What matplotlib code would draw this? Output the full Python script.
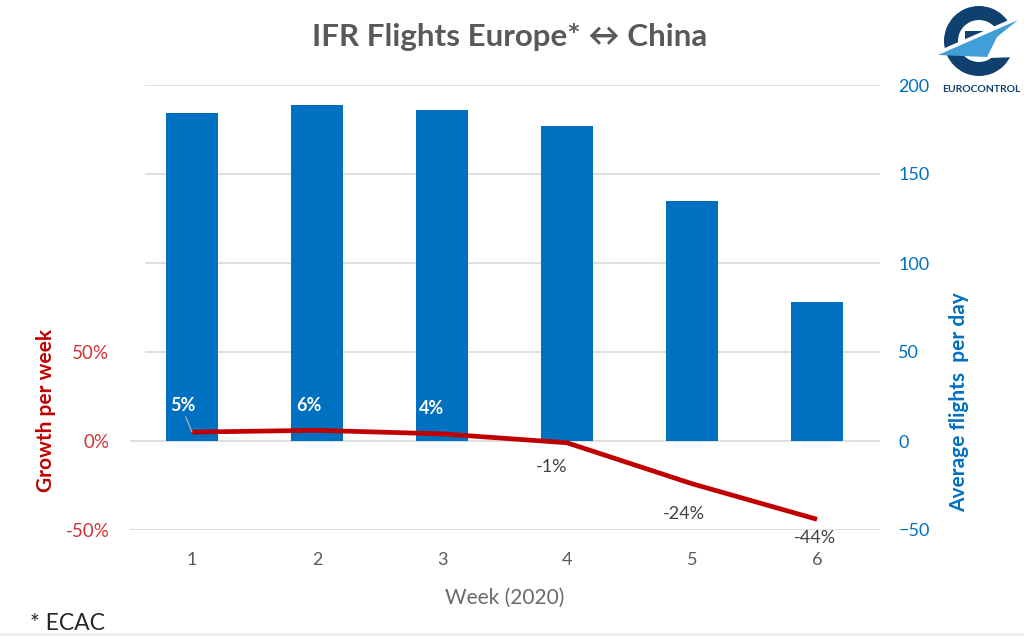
import matplotlib
matplotlib.use('Agg')
import matplotlib.pyplot as plt
from matplotlib.patches import Wedge, Polygon, Rectangle
import numpy as np

plt.rcParams['font.family'] = ['Lato', 'DejaVu Sans']

weeks = [1, 2, 3, 4, 5, 6]
flights = [184, 189, 186, 177, 135, 78]
growth = [5, 6, 4, -1, -24, -44]
growth_labels = ['5%', '6%', '4%', '-1%', '-24%', '-44%']
label_colors = ['white', 'white', 'white', '#404040', '#404040', '#404040']
# label offset in px from the point
label_dx = [-9, -8, -10, -15, -8, -2]
label_dy = [27, 25, 25, -24, -30, -19]
right_ticks = [-50, 0, 50, 100, 150, 200]
left_ticks = [-50, 0, 50]
left_labels = ['-50%', '0%', '50%']

W, H = 1024, 636
blue = '#0070c0'
red = '#c00000'
grey = '#595959'

fig = plt.figure(figsize=(W/100, H/100), dpi=100)
ax = fig.add_axes([129.5/W, 1-530/H, 750/W, 445/H])
ax.set_xlim(0.5, 6.5)
ax.set_ylim(-50, 200)
ax.set_yticks(left_ticks)
ax.set_yticklabels(left_labels, color='#d13438', fontsize=13.5)
ax.set_xticks(weeks)
ax.tick_params(axis='x', length=0, pad=16, labelsize=13, labelcolor=grey)
ax.tick_params(axis='y', length=0, pad=14.5)
for s in ax.spines.values():
    s.set_visible(False)
for t in right_ticks:
    ax.axhline(t, color='#d9d9d9', lw=1.2, zorder=0, xmin=0 if t <= 0 else 16/750)
ax.bar(weeks, flights, width=0.416, color=blue, zorder=2)
ax.plot(weeks, growth, color=red, lw=3.4, zorder=3, solid_capstyle='butt')

# data labels, offsets given in px
for i in range(len(weeks)):
    ax.annotate(growth_labels[i], (weeks[i], growth[i]),
                xytext=(label_dx[i]*0.72, label_dy[i]*0.72), textcoords='offset points',
                ha='center', va='center', fontsize=13, color=label_colors[i],
                fontweight='bold' if i < 3 else 'normal', zorder=5)
ax.annotate('', (weeks[0], growth[0]), xytext=(-4.5, 11), textcoords='offset points',
            arrowprops=dict(arrowstyle='-', color='#b0b0b0', lw=0.9, shrinkA=0, shrinkB=0), zorder=5)

ax.set_xlabel('Week (2020)', fontsize=15, color='#6a6a6a', labelpad=14)

ax2 = ax.twinx()
ax2.set_ylim(-50, 200)
ax2.set_yticks(right_ticks)
ax2.tick_params(axis='y', length=0, pad=13.5, labelsize=13, labelcolor=blue)
for s in ax2.spines.values():
    s.set_visible(False)

fig.text(46/W, 1-410/H, 'Growth per week', rotation=90, color=red, fontsize=15,
         fontweight='bold', ha='center', va='center')
fig.text(959/W, 1-402/H, 'Average flights  per day', rotation=90, color=blue, fontsize=15,
         fontweight='bold', ha='center', va='center')
fig.text(510/W, 1-37/H, 'IFR Flights Europe* ↔ China', color=grey, fontsize=22.6,
         fontweight='bold', ha='center', va='center')
fig.text(30/W, 1-623/H, '* ECAC', color='#262626', fontsize=16.5, ha='left', va='center')

# logo, drawn in picture pixels
lg = fig.add_axes([0, 0, 1, 1], facecolor='none')
lg.set_xlim(0, W)
lg.set_ylim(H, 0)
lg.axis('off')
navy = '#10406e'
lg.add_patch(Wedge((979, 41), 35, 0, 360, width=14, color=navy, lw=0))
lg.add_patch(Polygon([(965, 31), (1003, 31), (985, 39), (965, 39)], closed=True, color=navy, lw=0))
# white gap cut out around the wing, opening the ring to the right
lg.add_patch(Polygon([(938, 51), (1018, 16), (1020, 57), (987, 58)], closed=True, color='white', lw=0))
lg.add_patch(Polygon([(1018, 20), (938, 55), (987, 57), (997, 37)], closed=True, color='#3f9fd6', lw=0))
lg.text(981, 89, 'EUROCONTROL', color=navy, fontsize=7.5, fontweight='bold', ha='center', va='center')
lg.add_patch(Rectangle((0, 633), W, 3, color='#eeeeee', lw=0))

fig.savefig('out.png', dpi=100)
